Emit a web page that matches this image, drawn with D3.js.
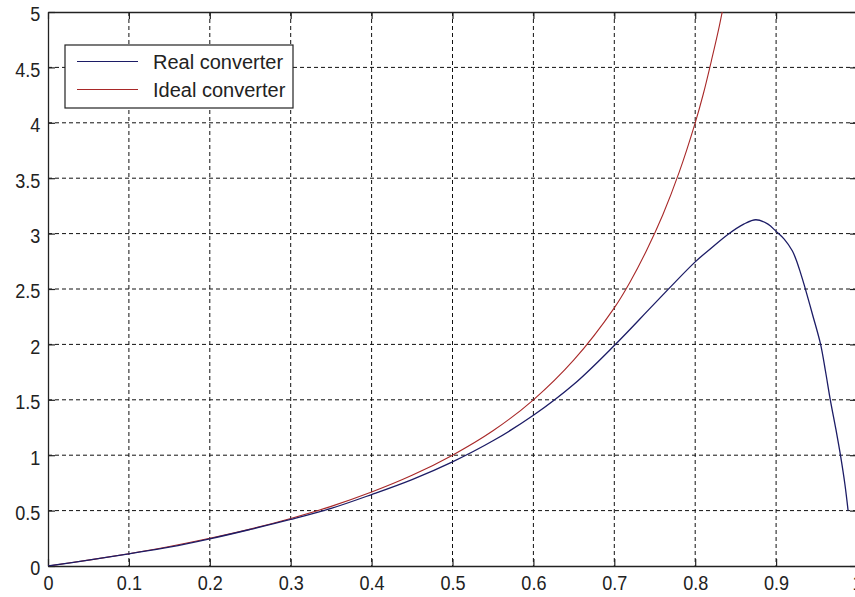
<!DOCTYPE html>
<html>
<head>
<meta charset="utf-8">
<script src="https://cdn.jsdelivr.net/npm/d3@7"></script>
<style>
html,body{margin:0;padding:0;background:#fff;}
svg{display:block;}
text{font-family:"Liberation Sans",Arial,sans-serif;fill:#222;}
</style>
</head>
<body>
<svg id="chart" width="855" height="597"></svg>
<script>
// ---- data ----
const xTicks = [0, 0.1, 0.2, 0.3, 0.4, 0.5, 0.6, 0.7, 0.8, 0.9, 1];
const xTickLabels = ["0", "0.1", "0.2", "0.3", "0.4", "0.5", "0.6", "0.7", "0.8", "0.9", "1"];
const yTicks = [0, 0.5, 1, 1.5, 2, 2.5, 3, 3.5, 4, 4.5, 5];
const yTickLabels = ["0", "0.5", "1", "1.5", "2", "2.5", "3", "3.5", "4", "4.5", "5"];

const seriesNames = ["Real converter", "Ideal converter"];

const xReal = [0, 0.05, 0.1, 0.15, 0.2, 0.25, 0.3, 0.35, 0.4, 0.45, 0.5, 0.55, 0.6, 0.65, 0.7, 0.75, 0.8, 0.82, 0.84, 0.86, 0.875, 0.89, 0.9, 0.91, 0.92, 0.925, 0.93, 0.935, 0.945, 0.955, 0.961, 0.967, 0.974, 0.98, 0.985, 0.989];
const yReal = [0, 0.053, 0.11, 0.17, 0.245, 0.33, 0.42, 0.52, 0.645, 0.78, 0.94, 1.13, 1.36, 1.64, 1.99, 2.37, 2.745, 2.87, 2.99, 3.085, 3.125, 3.085, 3.02, 2.95, 2.845, 2.76, 2.65, 2.53, 2.27, 2.0, 1.76, 1.5, 1.23, 0.98, 0.74, 0.5];

const xIdeal = [0, 0.05, 0.1, 0.15, 0.2, 0.25, 0.3, 0.35, 0.4, 0.45, 0.5, 0.55, 0.6, 0.65, 0.7, 0.72, 0.74, 0.76, 0.78, 0.8, 0.81, 0.82, 0.83, 0.84];
const yIdeal = [0, 0.053, 0.111, 0.176, 0.25, 0.333, 0.429, 0.538, 0.667, 0.818, 1.0, 1.22, 1.5, 1.86, 2.33, 2.57, 2.85, 3.17, 3.55, 4.0, 4.26, 4.56, 4.88, 5.25];

// ---- layout ----
const svg = d3.select("#chart");
const L = 48, R = 857, T = 12, B = 566;
const x = d3.scaleLinear().domain([0, 1]).range([L, R]);
const y = d3.scaleLinear().domain([0, 5]).range([B, T]);

const realColor = "#1c1c66";
const idealColor = "#a82828";

// clip
svg.append("defs").append("clipPath").attr("id", "plotclip")
  .append("rect").attr("x", L).attr("y", T).attr("width", R - L).attr("height", B - T);

// grid
const grid = svg.append("g");
grid.selectAll("line.gx").data(xTicks.slice(1, -1)).enter().append("line")
  .attr("x1", d => x(d)).attr("x2", d => x(d)).attr("y1", T).attr("y2", B)
  .attr("stroke", "#111").attr("stroke-width", 1).attr("stroke-dasharray", "4,3");
grid.selectAll("line.gy").data(yTicks.slice(1, -1)).enter().append("line")
  .attr("x1", L).attr("x2", R).attr("y1", d => y(d)).attr("y2", d => y(d))
  .attr("stroke", "#111").attr("stroke-width", 1).attr("stroke-dasharray", "4,3");

// axes (ticks inward)
const fmtX = (d, i) => xTickLabels[i];
const fmtY = (d, i) => yTickLabels[i];
const xAxis = svg.append("g").attr("transform", `translate(0,${B})`)
  .call(d3.axisBottom(x).tickValues(xTicks).tickFormat(fmtX).tickSizeInner(-7).tickSizeOuter(0).tickPadding(9));
const yAxis = svg.append("g").attr("transform", `translate(${L},0)`)
  .call(d3.axisLeft(y).tickValues(yTicks).tickFormat(fmtY).tickSizeInner(-7).tickSizeOuter(0).tickPadding(9));
const xTop = svg.append("g").attr("transform", `translate(0,${T})`)
  .call(d3.axisTop(x).tickValues(xTicks).tickFormat("").tickSizeInner(-7).tickSizeOuter(0));
const yRight = svg.append("g").attr("transform", `translate(${R},0)`)
  .call(d3.axisRight(y).tickValues(yTicks).tickFormat("").tickSizeInner(-7).tickSizeOuter(0));

[xAxis, yAxis, xTop, yRight].forEach(g => {
  g.select(".domain").attr("stroke", "#222").attr("stroke-width", 1.3);
  g.selectAll(".tick line").attr("stroke", "#222").attr("stroke-width", 1.2);
});
xAxis.selectAll(".tick text").attr("font-size", 21).attr("fill", "#222")
  .attr("font-family", "Liberation Sans, Arial, sans-serif")
  .attr("transform", "scale(0.86,1)");
yAxis.selectAll(".tick text").attr("font-size", 21).attr("fill", "#222")
  .attr("font-family", "Liberation Sans, Arial, sans-serif")
  .attr("dy", "0.42em")
  .attr("transform", "scale(0.86,1)");

// lines
const line = d3.line().x(d => x(d[0])).y(d => y(d[1])).curve(d3.curveCatmullRom.alpha(0.5));
const plot = svg.append("g").attr("clip-path", "url(#plotclip)");
plot.append("path").datum(xIdeal.map((v, i) => [v, yIdeal[i]]))
  .attr("d", line).attr("fill", "none").attr("stroke", idealColor).attr("stroke-width", 1.1);
plot.append("path").datum(xReal.map((v, i) => [v, yReal[i]]))
  .attr("d", line).attr("fill", "none").attr("stroke", realColor).attr("stroke-width", 1.3);

// legend
const lg = svg.append("g");
lg.append("rect").attr("x", 65).attr("y", 45).attr("width", 228).attr("height", 63)
  .attr("fill", "#fff").attr("stroke", "#222").attr("stroke-width", 1.2);
const colors = [realColor, idealColor];
const rowY = [61.5, 89.5];
seriesNames.forEach((name, i) => {
  lg.append("line").attr("x1", 77).attr("x2", 138).attr("y1", rowY[i]).attr("y2", rowY[i])
    .attr("stroke", colors[i]).attr("stroke-width", 1.2);
  lg.append("text").attr("x", 153).attr("y", rowY[i]).attr("dy", "0.36em")
    .attr("font-size", 20).text(name);
});
</script>
</body>
</html>
